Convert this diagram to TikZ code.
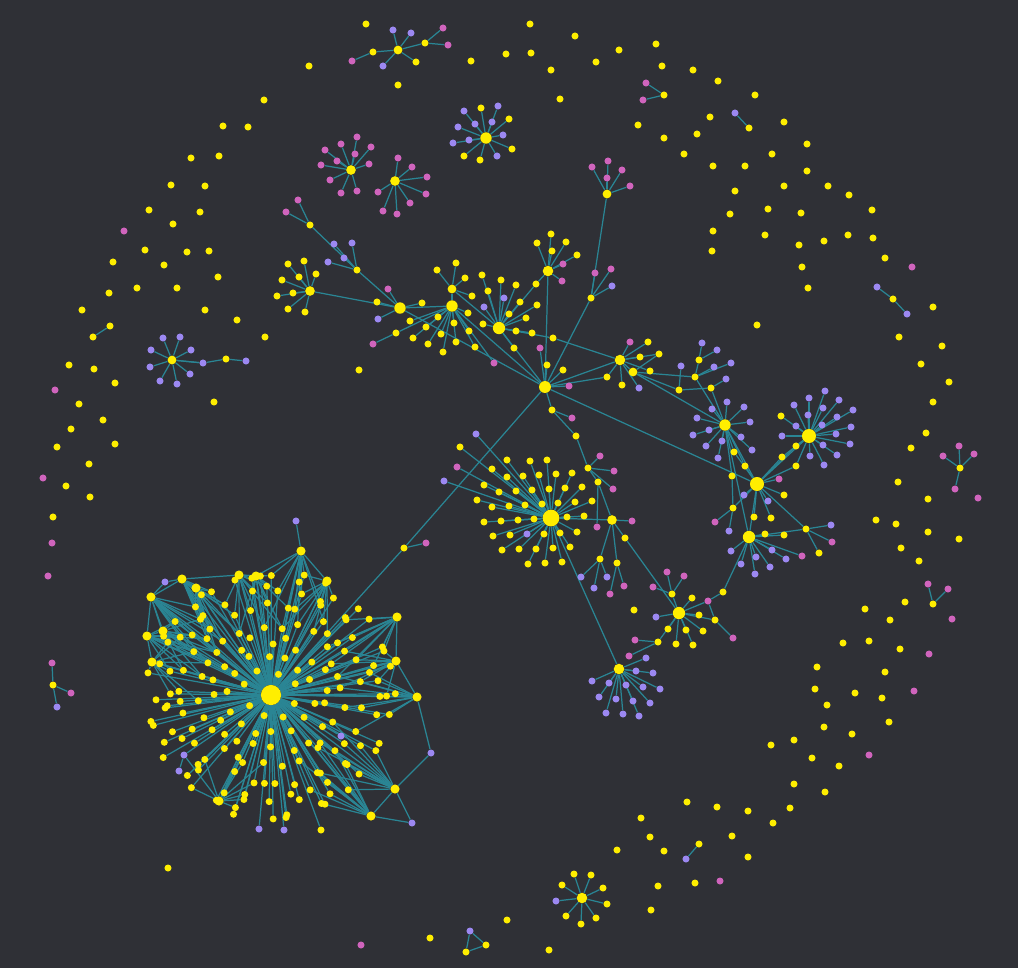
\documentclass[tikz,border=0pt]{standalone}
\usepackage{xcolor}
\usepackage{tikz}
\usetikzlibrary{calc}

\definecolor{canvas}{HTML}{2F3036}
\definecolor{nodeY}{HTML}{FFEE00}
\definecolor{nodeP}{HTML}{9C88F2}
\definecolor{nodeK}{HTML}{D064BD}
\definecolor{linkC}{HTML}{2A8594}

\pgfdeclarelayer{back}
\pgfdeclarelayer{edges}
\pgfsetlayers{back,edges,main}

\tikzset{
  dot/.style={circle,inner sep=0pt,minimum size=4pt,fill=node#1},
  dot/.default=Y,
  hub/.style={circle,inner sep=0pt,minimum size=#1,fill=nodeY},
  hub/.default=5.5pt,
  link/.style={draw=linkC,line width=0.7pt}
}

\begin{document}
\begin{tikzpicture}[x=0.02cm,y=-0.02cm]
    \begin{pgfonlayer}{back}
        \fill[canvas] (0,0) rectangle (1018,968);
    \end{pgfonlayer}
    \useasboundingbox (0,0) rectangle (1018,968);

    % loose dots
    \foreach \x/\y/\c [count=\i] in {366/24/Y,530/24/Y,575/36/Y,309/66/Y,471/61/Y,506/54/Y,531/53/Y,551/70/Y,596/62/Y,619/50/Y,656/44/Y,662/66/Y,693/70/Y,718/81/Y,755/95/Y,398/85/Y,264/100/Y,560/99/Y,638/125/Y,664/138/Y,710/117/Y,784/122/Y,697/134/Y,684/154/Y,807/144/Y,772/154/Y,713/166/Y,745/166/Y,807/171/Y,735/191/Y,784/186/Y,828/186/Y,849/195/Y,872/210/Y,730/214/Y,768/209/Y,801/213/Y,713/231/Y,765/235/Y,848/235/Y,799/245/Y,824/241/Y,873/238/Y,712/251/Y,885/258/Y,912/267/K,802/267/Y,808/288/Y,933/307/Y,899/337/Y,942/346/Y,921/364/Y,949/382/Y,933/402/Y,926/433/Y,911/448/Y,978/498/K,898/482/Y,928/499/Y,876/520/Y,896/524/Y,928/532/Y,959/539/Y,901/548/Y,919/561/Y,952/619/K,905/602/Y,865/609/Y,890/620/Y,843/643/Y,869/641/Y,900/649/Y,929/654/K,817/667/Y,885/672/Y,815/689/Y,855/693/Y,882/698/Y,914/691/K,827/705/Y,889/722/Y,824/727/Y,852/734/Y,771/745/Y,794/740/Y,812/758/Y,839/766/Y,869/755/K,794/784/Y,825/792/Y,687/802/Y,717/807/Y,748/811/Y,790/808/Y,641/818/Y,773/823/Y,650/837/Y,617/850/Y,664/851/Y,732/836/Y,748/857/Y,658/886/Y,695/883/Y,720/881/K,651/910/Y,634/610/Y,757/325/Y,168/868/Y,361/945/K,430/938/Y,507/920/Y,549/950/Y,223/126/Y,248/127/Y,191/158/Y,219/156/Y,171/185/Y,205/186/Y,149/210/Y,200/212/Y,173/224/Y,124/231/K,145/250/Y,187/252/Y,209/251/Y,113/262/Y,164/265/Y,218/277/Y,109/293/Y,137/288/Y,177/288/Y,82/310/Y,205/310/Y,237/320/Y,265/337/Y,69/365/Y,94/369/Y,115/383/Y,55/390/K,79/404/Y,103/420/Y,71/429/Y,57/447/Y,115/444/Y,89/464/Y,43/478/K,66/486/Y,90/497/Y,53/517/Y,52/543/K,48/576/K,214/402/Y,359/370/Y}
        \node[dot=\c] (iso\i) at (\x,\y) {};

    % small groups
    \node[dot] (gA) at (664,95) {};
    \node[dot=K] (gA-1) at (646,83) {};
    \node[dot=K] (gA-2) at (643,100) {};
    \node[dot=P] (gB-1) at (735,113) {};
    \node[dot] (gB) at (749,128) {};
    \node[dot=P] (gC-1) at (877,287) {};
    \node[dot] (gC) at (893,299) {};
    \node[dot=P] (gC-2) at (907,314) {};
    \node[dot] (gD) at (960,468) {};
    \foreach \x/\y [count=\i] in {959/446,943/456,974/454,955/489}
        \node[dot=K] (gD-\i) at (\x,\y) {};
    \node[dot] (gE) at (933,604) {};
    \node[dot=K] (gE-1) at (928,584) {};
    \node[dot=K] (gE-2) at (948,589) {};
    \node[dot=P] (gF-1) at (686,859) {};
    \node[dot] (gF) at (699,844) {};
    \node[dot=P] (gG-1) at (470,931) {};
    \node[dot] (gG) at (486,945) {};
    \node[dot] (gG-2) at (466,952) {};
    \node[dot] (gH) at (110,326) {};
    \node[dot] (gH-1) at (93,337) {};
    \node[dot] (gI) at (53,685) {};
    \node[dot=K] (gI-1) at (52,663) {};
    \node[dot=K] (gI-2) at (71,693) {};
    \node[dot=P] (gI-3) at (57,707) {};

    % upper stars
    \node[hub=5pt] (T1) at (398,50) {};
    \foreach \x/\y/\c [count=\i] in {393/30/P,411/33/P,383/66/P,416/62/Y}
        \node[dot=\c] (t1-\i) at (\x,\y) {};
    \node[dot] (T1a) at (373,52) {};
    \node[dot=K] (t1a-1) at (352,61) {};
    \node[dot] (T1b) at (425,43) {};
    \node[dot=K] (t1b-1) at (443,28) {};
    \node[dot=K] (t1b-2) at (448,45) {};

    \node[hub=6.5pt] (T2) at (486,138) {};
    \foreach \x/\y/\c [count=\i] in {464/111/P,481/108/Y,498/106/P,509/119/Y,475/124/P,492/122/P,458/127/P,503/135/P,453/143/P,469/140/P,512/149/Y,464/156/Y,480/160/Y,497/156/P}
        \node[dot=\c] (t2-\i) at (\x,\y) {};

    \node[hub] (K1) at (351,170) {};
    \foreach \x/\y [count=\i] in {357/137,341/144,371/147,355/154,337/161,369/164,321/165,330/180,341/193,357/191,325/150}
        \node[dot=K] (k1-\i) at (\x,\y) {};
    \node[hub] (K2) at (395,181) {};
    \foreach \x/\y [count=\i] in {398/158,412/167,427/177,426/194,410/203,397/214,383/211,378/192}
        \node[dot=K] (k2-\i) at (\x,\y) {};
    \node[hub=5pt] (K3) at (607,194) {};
    \foreach \x/\y [count=\i] in {592/167,608/161,622/170,607/178,630/186}
        \node[dot=K] (k3-\i) at (\x,\y) {};

    \node[hub=5pt] (LS) at (172,360) {};
    \foreach \x/\y [count=\i] in {163/338,180/337,151/350,191/350,150/367,190/374,160/381,177/384}
        \node[dot=P] (ls-\i) at (\x,\y) {};
    \node[dot=P] (LSa) at (203,363) {};
    \node[dot] (LSb) at (226,359) {};
    \node[dot=P] (LSc) at (246,361) {};

    % middle web
    \node[hub] (W1) at (310,291) {};
    \foreach \x/\y [count=\i] in {288/264,304/261,316/274,299/277,282/280,293/293,277/296,288/309,305/312}
        \node[dot] (w1-\i) at (\x,\y) {};
    \node[dot] (W2) at (310,225) {};
    \node[dot=K] (w2-1) at (298,200) {};
    \node[dot=K] (w2-2) at (286,212) {};
    \node[dot] (W3) at (357,270) {};
    \foreach \x/\y [count=\i] in {334/244,352/243,344/258,328/262}
        \node[dot=P] (w3-\i) at (\x,\y) {};

    \node[hub=6.5pt] (A1) at (400,308) {};
    \foreach \x/\y/\c [count=\i] in {388/289/K,377/302/Y,378/319/P,422/303/Y}
        \node[dot=\c] (a1-\i) at (\x,\y) {};
    \node[hub=6.5pt] (A2) at (452,306) {};
    \foreach \x/\y/\c [count=\i] in {410/321/Y,426/327/Y,413/338/Y,428/344/Y,441/334/Y,443/352/Y,456/342/Y,454/323/Y,469/331/Y,468/313/Y,475/347/Y,438/317/Y,396/333/Y,494/363/K}
        \node[dot=\c] (a2-\i) at (\x,\y) {};
    \node[dot=K] (a2x) at (373,344) {};
    \node[hub=5pt] (A2b) at (452,289) {};
    \foreach \x/\y [count=\i] in {437/270,456/263,465/278,472/296}
        \node[dot] (a2b-\i) at (\x,\y) {};
    \node[hub=7pt] (A3) at (499,328) {};
    \foreach \x/\y/\c [count=\i] in {484/307/P,504/298/P,501/280/Y,516/285/Y,520/302/Y,509/314/Y,526/318/Y,537/305/Y,536/284/Y,516/331/Y,532/333/Y,553/338/Y,514/348/Y,483/324/Y,488/291/Y,482/275/Y}
        \node[dot=\c] (a3-\i) at (\x,\y) {};
    \node[hub=6pt] (A4) at (548,271) {};
    \foreach \x/\y/\c [count=\i] in {537/243/Y,551/234/Y,566/242/Y,552/251/Y,577/255/Y,563/264/K,562/281/K}
        \node[dot=\c] (a4-\i) at (\x,\y) {};

    \node[hub=6.8pt] (C) at (545,387) {};
    \foreach \x/\y/\c [count=\i] in {547/365/Y,563/370/Y,540/348/K,569/386/K}
        \node[dot=\c] (c-\i) at (\x,\y) {};
    \node[dot] (C1) at (552,410) {};
    \node[dot=K] (c1-1) at (572,418) {};
    \node[dot] (C2) at (576,436) {};
    \node[dot] (B1) at (591,298) {};
    \foreach \x/\y/\c [count=\i] in {595/273/K,611/269/K,612/286/P}
        \node[dot=\c] (b1-\i) at (\x,\y) {};
    \node[dot] (A) at (404,548) {};
    \node[dot=K] (Ak) at (426,543) {};

    % right side
    \node[hub=6pt] (R1) at (620,360) {};
    \foreach \x/\y/\c [count=\i] in {630/342/K,648/342/Y,640/357/Y,659/354/Y,650/371/Y,607/377/Y,622/385/Y,639/388/P}
        \node[dot=\c] (r1-\i) at (\x,\y) {};
    \node[hub=5pt] (R1b) at (633,372) {};
    \node[dot] (Q1) at (699,360) {};
    \node[dot] (Q2) at (695,377) {};
    \node[dot] (Q3) at (679,390) {};
    \node[dot] (Q4) at (711,388) {};
    \node[dot=P] (q1-1) at (702,343) {};
    \node[dot=P] (q1-2) at (717,350) {};
    \node[dot=P] (q2-1) at (714,367) {};
    \node[dot=P] (q2-2) at (731,363) {};
    \node[dot=P] (q2-3) at (726,379) {};
    \node[dot=P] (q3-1) at (681,366) {};

    \node[hub=6.5pt] (R2) at (725,425) {};
    \foreach \x/\y/\c [count=\i] in {727/402/P,744/407/P,712/409/P,697/418/P,750/422/P,709/430/P,693/435/P,741/437/P,722/441/P,706/446/P,752/450/P,718/458/P,734/452/Y,745/466/Y,732/476/Y}
        \node[dot=\c] (r2-\i) at (\x,\y) {};
    \node[hub=8pt] (R3) at (757,484) {};
    \foreach \x/\y/\c [count=\i] in {779/479/K,784/495/Y,744/495/P,768/501/P,754/517/Y,771/518/Y,733/508/Y,782/457/Y,796/466/Y,796/446/Y}
        \node[dot=\c] (r3-\i) at (\x,\y) {};
    \node[dot=K] (r3x-1) at (715,522) {};
    \node[dot=P] (r3x-2) at (729,531) {};
    \node[hub=7pt] (R4) at (749,537) {};
    \foreach \x/\y/\c [count=\i] in {765/534/Y,784/535/Y,786/559/P,772/550/P,756/557/P,731/551/P,741/564/P,770/567/P,755/574/P,802/556/K}
        \node[dot=\c] (r4-\i) at (\x,\y) {};
    \node[dot] (R4b) at (806,529) {};
    \foreach \x/\y/\c [count=\i] in {831/525/P,832/542/K,819/553/Y}
        \node[dot=\c] (r4b-\i) at (\x,\y) {};
    \node[hub=8pt] (R5) at (809,436) {};
    \foreach \x/\y/\c [count=\i] in {794/405/P,809/398/P,825/391/P,839/400/P,853/410/P,823/408/P,808/415/P,796/426/P,822/425/P,837/417/P,851/427/P,836/434/P,850/444/P,837/455/P,823/445/P,810/456/P,824/465/P,782/436/P,781/416/Y}
        \node[dot=\c] (r5-\i) at (\x,\y) {};

    % centre star
    \node[hub=9.5pt] (M) at (551,518) {};
    \foreach \x/\y/\c [count=\i] in {476/434/P,460/447/Y,457/467/K,444/481/P,507/460/Y,530/461/Y,547/460/Y,492/469/Y,507/477/Y,523/476/Y,539/475/Y,556/474/Y,572/473/Y,484/485/Y,499/492/Y,516/491/Y,532/490/Y,549/489/Y,565/488/Y,582/487/Y,477/500/Y,492/507/Y,509/506/Y,525/505/Y,542/504/Y,558/503/Y,575/502/Y,592/501/Y,484/522/Y,501/521/Y,518/520/Y,534/519/Y,567/517/Y,584/516/Y,493/536/Y,510/535/Y,527/534/P,544/534/Y,560/533/Y,577/532/Y,502/550/Y,519/549/Y,536/549/Y,553/548/Y,570/547/Y,528/564/Y,545/563/Y,562/562/Y}
        \node[dot=\c] (m-\i) at (\x,\y) {};

    \node[hub] (G) at (612,520) {};
    \node[dot=K] (g-1) at (632,521) {};
    \node[dot=K] (g-2) at (597,527) {};
    \node[dot] (G1) at (588,468) {};
    \node[dot] (G2) at (598,482) {};
    \node[dot] (G3) at (600,559) {};
    \node[dot] (G4) at (617,563) {};
    \node[dot] (G5) at (625,538) {};
    \foreach \x/\y [count=\i] in {600/456,614/471,613/489}
        \node[dot=K] (g1-\i) at (\x,\y) {};
    \foreach \x/\y [count=\i] in {581/577,594/588,607/577}
        \node[dot=P] (g3-\i) at (\x,\y) {};
    \node[dot=K] (g4-1) at (624,586) {};
    \node[dot=K] (g4-2) at (610,594) {};

    \node[hub=7pt] (S1) at (679,613) {};
    \foreach \x/\y/\c [count=\i] in {656/617/P,692/598/Y,699/615/Y,668/629/Y,686/630/Y,703/631/Y,676/644/Y,693/645/Y}
        \node[dot=\c] (s1-\i) at (\x,\y) {};
    \node[dot] (S1a) at (672,594) {};
    \node[dot=K] (S1b) at (708,601) {};
    \node[dot] (S1c) at (723,592) {};
    \node[dot] (S1d) at (715,620) {};
    \node[dot] (S1e) at (658,642) {};
    \foreach \x/\y [count=\i] in {667/572,684/576,653/587}
        \node[dot=K] (s1a-\i) at (\x,\y) {};
    \node[dot=K] (s1d-1) at (733,638) {};
    \node[dot=K] (s1e-1) at (635,640) {};
    \node[dot=K] (s1e-2) at (629,656) {};

    \node[hub=6pt] (S2) at (619,669) {};
    \foreach \x/\y [count=\i] in {646/658,636/671,653/673,592/681,609/683,626/685,643/687,660/689,599/697,616/699,633/701,650/703,606/713,623/714,639/716}
        \node[dot=P] (s2-\i) at (\x,\y) {};

    \node[hub=6pt] (BS) at (582,898) {};
    \foreach \x/\y/\c [count=\i] in {574/874/Y,591/875/Y,562/885/Y,603/888/Y,556/901/P,607/904/Y,566/916/Y,596/918/Y,581/924/Y}
        \node[dot=\c] (bs-\i) at (\x,\y) {};

    % big cluster
    \node[hub=11.5pt] (H) at (271,695) {};
    \pgfmathsetseed{7}
    \foreach \k in {1,...,7}{
        \pgfmathtruncatemacro\n{2+6*\k}
        \foreach \i in {1,...,\n}{
            \pgfmathsetmacro\ang{\i*360/\n+17*\k+7*rand}
            \pgfmathsetmacro\rad{8+16*\k+5*rand}
            \node[dot] (L\k-\i) at ($(H)+(\ang:\rad)$) {};
        }
    }
    \foreach \x/\y [count=\i] in {151/597,182/579,196/588,239/575,256/576,147/636,163/631,152/662,397/617,396/661,417/697,395/789,371/816,219/801,327/581,301/551}
        \node[hub=5.2pt] (P\i) at (\x,\y) {};
    \foreach \x/\y/\c [count=\i] in {165/582/P,184/755/P,179/771/P,259/829/P,284/830/P,341/736/P,431/753/P,412/823/P,321/830/Y,296/521/P}
        \node[dot=\c] (pb-\i) at (\x,\y) {};

    \begin{pgfonlayer}{edges}
        \foreach \k in {1,...,7}{
            \pgfmathtruncatemacro\n{2+6*\k}
            \foreach \i in {1,...,\n}
                \draw[link] (H) -- (L\k-\i);
        }
        \foreach \t [count=\q] in {219,233,235,255,263,205,211,196,328,345,1,37,50,116,296,282}{
            \draw[link] (H) -- (P\q);
            \foreach \k in {4,...,7}{
                \pgfmathtruncatemacro\n{2+6*\k}
                \foreach \d in {-1,0,1}{
                    \pgfmathtruncatemacro\j{mod(round((\t-17*\k)*\n/360)+\d+2*\n-1,\n)+1}
                    \draw[link] (P\q) -- (L\k-\j);
                }
            }
        }
        \foreach \a/\b in {P1/P2,P2/P3,P2/P4,P4/P5,P1/P6,P6/P8,P7/P1,P7/P6,P9/P10,P10/P11,P12/P13,P15/P16,P5/P16,
                pb-1/P1,pb-1/P2,pb-2/H,pb-3/pb-2,pb-4/H,pb-5/H,pb-6/H,pb-7/P11,pb-7/P12,pb-8/P12,pb-8/P13,pb-9/H,pb-10/P16,P14/pb-2,
                H/A,A/Ak,A/C,C/A1,C/A2,C/A3,C/A4,C/B1,C/R1,C/r1-6,C/R3,C/C1,C1/c1-1,C1/C2,C2/G1,G1/G2,G2/G,G2/g-2,G/M,
                G/G3,G/G4,G/G5,G/g-1,G5/S1,M/S2,B1/K3,W2/W3,W3/A1,W1/A1,A1/A2,A2/A2b,A2b/A3,a2-13/a2x,
                a3-9/A4,a3-12/R1,R1/R1b,R1b/Q2,R1b/Q3,R1b/R2,R1b/r1-4,Q1/Q2,Q3/Q4,Q4/R2,Q2/R2,R2/R3,R2/R4,R3/R4,R3/R5,R3/R4b,
                R4/R4b,R4/S1c,S1/S1a,S1/S1b,S1/S1d,S1/S1e,S1b/S1c,S1b/S1d,S1d/s1d-1,S1e/s1e-1,S1e/s1e-2,
                r2-14/R3,r2-13/R3,r2-15/r3-7,r3-7/r3x-1,r3-7/r3x-2,r3-8/R5,r3-9/R5,r3-10/R5,
                G3/g3-1,G3/g3-2,G3/g3-3,G4/g4-1,G4/g4-2,Q1/q1-1,Q1/q1-2,Q2/q2-1,Q2/q2-2,Q4/q2-3,Q3/q3-1,
                T1/T1a,T1/T1b,T1a/t1a-1,T1b/t1b-1,T1b/t1b-2,LS/LSa,LSa/LSb,LSb/LSc,W2/w2-1,W2/w2-2,
                gA/gA-1,gA/gA-2,gB/gB-1,gC/gC-1,gC/gC-2,gE/gE-1,gE/gE-2,gF/gF-1,gG/gG-1,gG/gG-2,gG-1/gG-2,gH/gH-1,gI/gI-1,gI/gI-2,gI/gI-3}
            \draw[link] (\a) -- (\b);
        \foreach \i in {1,...,4} \draw[link] (T1) -- (t1-\i);
        \foreach \i in {1,...,14} \draw[link] (T2) -- (t2-\i);
        \foreach \i in {1,...,11} \draw[link] (K1) -- (k1-\i);
        \foreach \i in {1,...,8} \draw[link] (K2) -- (k2-\i);
        \foreach \i in {1,...,5} \draw[link] (K3) -- (k3-\i);
        \foreach \i in {1,...,8} \draw[link] (LS) -- (ls-\i);
        \draw[link] (LS) -- (LSa);
        \foreach \i in {1,...,9} \draw[link] (W1) -- (w1-\i);
        \foreach \i in {1,...,4} \draw[link] (W3) -- (w3-\i);
        \foreach \i in {1,...,4} \draw[link] (A1) -- (a1-\i);
        \foreach \i in {1,...,14} \draw[link] (A2) -- (a2-\i);
        \foreach \i in {1,...,4} \draw[link] (A2b) -- (a2b-\i);
        \foreach \i in {1,...,16} \draw[link] (A3) -- (a3-\i);
        \foreach \i in {1,...,7} \draw[link] (A4) -- (a4-\i);
        \foreach \i in {1,...,4} \draw[link] (C) -- (c-\i);
        \foreach \i in {1,...,3} \draw[link] (B1) -- (b1-\i);
        \foreach \i in {1,...,8} \draw[link] (R1) -- (r1-\i);
        \foreach \i in {1,...,15} \draw[link] (R2) -- (r2-\i);
        \foreach \i in {1,...,10} \draw[link] (R3) -- (r3-\i);
        \foreach \i in {1,...,10} \draw[link] (R4) -- (r4-\i);
        \foreach \i in {1,...,3} \draw[link] (R4b) -- (r4b-\i);
        \foreach \i in {1,...,19} \draw[link] (R5) -- (r5-\i);
        \foreach \i in {1,...,48} \draw[link] (M) -- (m-\i);
        \foreach \i in {1,...,3} \draw[link] (G1) -- (g1-\i);
        \foreach \i in {1,...,8} \draw[link] (S1) -- (s1-\i);
        \foreach \i in {1,...,3} \draw[link] (S1a) -- (s1a-\i);
        \foreach \i in {1,...,15} \draw[link] (S2) -- (s2-\i);
        \foreach \i in {1,...,9} \draw[link] (BS) -- (bs-\i);
        \foreach \i in {1,...,4} \draw[link] (gD) -- (gD-\i);
    \end{pgfonlayer}
\end{tikzpicture}
\end{document}
